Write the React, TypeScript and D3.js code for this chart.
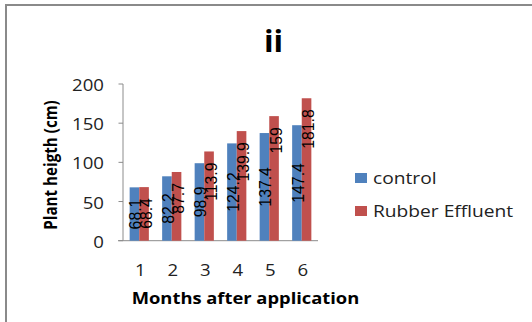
import React from "react";
import * as d3 from "d3";

const months = ["1", "2", "3", "4", "5", "6"];
const control = [68.1, 82.2, 98.9, 124.2, 137.4, 147.4];
const rubber = [68.4, 87.7, 113.9, 139.9, 159, 181.8];
const yTicks = [0, 50, 100, 150, 200];
const seriesNames = ["control", "Rubber Effluent"];
const colors = ["#4F81BD", "#C0504D"];

const W = 532;
const H = 322;
const SX = 1.2;
const FONT = "'Open Sans', sans-serif";
const LABEL_FONT = "'Liberation Sans', Arial, sans-serif";

export default function App() {
  const x = d3.scaleBand<string>().domain(months).range([123, 318]).paddingInner(0).paddingOuter(0);
  const y = d3.scaleLinear().domain([0, 200]).range([240.7, 84]);
  const barW = 9.6;

  const series = [control, rubber];

  return (
    <svg width={W} height={H} style={{ position: "absolute", left: 0, top: 0, background: "#fff" }}>
      <rect x={6} y={5} width={560} height={340} fill="#fff" stroke="#8a8a8a" strokeWidth={2} />
      <text
        transform={`translate(273.5,52) scale(1.05,1)`}
        textAnchor="middle"
        fontFamily={FONT}
        fontWeight="bold"
        fontSize={30}
        fill="#000"
      >
        ii
      </text>

      {/* axes */}
      <line x1={123} x2={123} y1={y(200)} y2={y(0)} stroke="#8c8c8c" strokeWidth={1} />
      <line x1={118} x2={318} y1={y(0)} y2={y(0)} stroke="#8c8c8c" strokeWidth={1} />
      {yTicks.map((t) => (
        <g key={t}>
          <line x1={118.5} x2={123} y1={y(t)} y2={y(t)} stroke="#8c8c8c" strokeWidth={1} />
          <text
            transform={`translate(104,${y(t) + 7}) scale(${SX},1)`}
            textAnchor="end"
            fontFamily={FONT}
            fontSize={15.5}
            fill="#222"
          >
            {t}
          </text>
        </g>
      ))}

      {/* bars */}
      {series.map((vals, si) =>
        vals.map((v, i) => {
          const cx = (x(months[i]) as number) + x.bandwidth() / 2;
          const bx = si === 0 ? cx - barW : cx;
          return (
            <rect key={`${si}-${i}`} x={bx} y={y(v)} width={barW} height={y(0) - y(v)} fill={colors[si]} />
          );
        })
      )}

      {/* data labels */}
      {series.map((vals, si) =>
        vals.map((v, i) => {
          const cx = (x(months[i]) as number) + x.bandwidth() / 2;
          const lx = si === 0 ? cx - barW / 2 + 0.5 : cx + barW / 2 + 1.5;
          const ly = si === 0 ? (y(v) + y(0)) / 2 : y(v) + 11;
          return (
            <text
              key={`l-${si}-${i}`}
              transform={`translate(${lx},${ly}) scale(1.08,1) rotate(-90)`}
              textAnchor={si === 0 ? "middle" : "end"}
              dy="0.36em"
              fontFamily={LABEL_FONT}
              fontSize={15.8}
              fill="#000"
            >
              {String(v)}
            </text>
          );
        })
      )}

      {/* x tick labels */}
      {months.map((m) => (
        <text
          key={m}
          transform={`translate(${(x(m) as number) + x.bandwidth() / 2 + 1},275.5) scale(${SX},1)`}
          textAnchor="middle"
          fontFamily={FONT}
          fontSize={15.5}
          fill="#222"
        >
          {m}
        </text>
      ))}

      {/* axis titles */}
      <text
        transform={`translate(245.5,303.7) scale(${SX},1)`}
        textAnchor="middle"
        fontFamily={FONT}
        fontWeight="bold"
        fontSize={15.3}
        fill="#000"
      >
        Months after application
      </text>
      <text
        transform={`translate(56.5,165) scale(${SX},1) rotate(-90)`}
        textAnchor="middle"
        fontFamily={FONT}
        fontWeight="bold"
        fontSize={15.2}
        fill="#000"
      >
        Plant heigth (cm)
      </text>

      {/* legend */}
      {seriesNames.map((name, i) => (
        <g key={name}>
          <rect x={355} y={173 + i * 33} width={12} height={10} fill={colors[i]} />
          <text
            transform={`translate(373,${184 + i * 33}) scale(${SX},1)`}
            fontFamily={FONT}
            fontSize={16}
            fill="#222"
          >
            {name}
          </text>
        </g>
      ))}
    </svg>
  );
}
